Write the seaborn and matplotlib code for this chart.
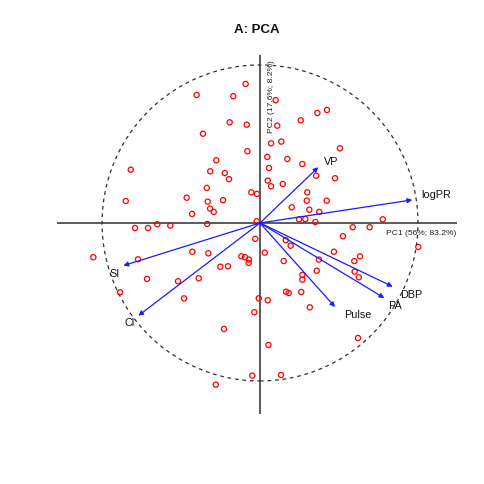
import matplotlib
matplotlib.use("Agg")
import matplotlib.pyplot as plt
import matplotlib.patches as mpatches
import seaborn as sns
import pandas as pd

# ---- data (PCA scores, loadings) ----
pc1 = [-0.091, -0.401, -0.169, -0.192, -0.084, -0.361, -0.080, -0.277, -0.818, -0.315,
       -0.223, -0.196, -0.337, -0.055, -0.019, -0.850, -0.464, -0.331, -0.234, -0.316,
       -0.293, -0.430, -0.021, -0.650, -0.568, -0.334, -0.791, -0.709, -0.030, -1.055,
       -0.772, -0.428, -0.327, -0.118, -0.095, -0.070, -0.072, -0.251, -0.203, -0.715,
       -0.519, -0.388, -0.886, -0.008, -0.481, -0.036, -0.228, -0.049, -0.280, 0.099,
       0.363, 0.424, 0.258, 0.109, 0.070, 0.135, 0.506, 0.046, 0.173, 0.057,
       0.268, 0.356, 0.475, 0.049, 0.070, 0.144, 0.299, 0.296, 0.422, 0.201,
       0.312, 0.375, 0.247, 0.287, 0.350, 0.777, 0.587, 0.694, 0.525, 1.002,
       0.163, 0.194, 0.030, 0.468, 0.633, 0.597, 0.150, 0.373, 0.359, 0.599,
       0.625, 0.268, 0.268, 0.165, 0.182, 0.261, 0.049, 0.315, 0.620, 0.053,
       0.133]
pc2 = [0.880, 0.810, 0.802, 0.637, 0.622, 0.565, 0.454, 0.397, 0.337, 0.327,
       0.316, 0.277, 0.222, 0.194, 0.184, 0.139, 0.160, 0.135, 0.144, 0.091,
       0.070, 0.057, 0.011, -0.008, -0.017, -0.006, -0.032, -0.032, -0.101, -0.217,
       -0.230, -0.182, -0.192, -0.211, -0.217, -0.232, -0.253, -0.277, -0.274, -0.354,
       -0.369, -0.350, -0.439, -0.477, -0.477, -0.565, -0.671, -0.966, -1.023, 0.777,
       0.696, 0.715, 0.650, 0.616, 0.504, 0.515, 0.473, 0.418, 0.405, 0.348,
       0.373, 0.299, 0.283, 0.268, 0.232, 0.247, 0.194, 0.141, 0.141, 0.099,
       0.084, 0.070, 0.023, 0.025, 0.006, 0.023, -0.027, -0.027, -0.084, -0.152,
       -0.109, -0.144, -0.188, -0.182, -0.211, -0.241, -0.241, -0.232, -0.302, -0.308,
       -0.344, -0.329, -0.359, -0.435, -0.443, -0.437, -0.489, -0.534, -0.728, -0.772,
       -0.962]

variables = ["logPR", "VP", "SI", "Cl", "DBP", "PA", "Pulse"]
load_pc1 = [0.964, 0.369, -0.865, -0.770, 0.840, 0.787, 0.475]
load_pc2 = [0.146, 0.353, -0.270, -0.587, -0.403, -0.475, -0.532]
label_x = [1.118, 0.449, -0.918, -0.823, 0.960, 0.854, 0.618]
label_y = [0.184, 0.394, -0.316, -0.628, -0.449, -0.517, -0.578]

title = "A: PCA"
pc1_label = "PC1 (56%; 83.2%)"
pc2_label = "PC2 (17.6%; 8.2%)"

# ---- plot ----
sns.set_theme(style="white")
plt.rcParams["font.family"] = ["Liberation Sans", "DejaVu Sans"]

fig = plt.figure(figsize=(4.85, 4.85), dpi=100)
ax = fig.add_axes([57 / 485, 1 - 415 / 485, 400 / 485, 359 / 485])
ax.set_xlim(-1.285, 1.247)
ax.set_ylim(-1.209, 1.063)
ax.axis("off")

ax.axhline(0, color="#5a5a5a", lw=1.4, zorder=1)
ax.axvline(0, color="#5a5a5a", lw=1.4, zorder=1)

circ = mpatches.Circle((0, 0), 1.0, fill=False, edgecolor="#303030",
                       lw=0.9, linestyle=(0, (3, 3)), zorder=2)
ax.add_patch(circ)

df = pd.DataFrame({"PC1": pc1, "PC2": pc2})
sns.scatterplot(data=df, x="PC1", y="PC2", ax=ax, marker="o", s=14,
                facecolor="none", edgecolor="red", linewidth=0.9, zorder=3)

for v, x, y, lx, ly in zip(variables, load_pc1, load_pc2, label_x, label_y):
    ax.annotate("", xy=(x, y), xytext=(0, 0),
                arrowprops=dict(arrowstyle="-|>", color="#1a1aff", lw=0.9,
                                mutation_scale=7, shrinkA=0, shrinkB=0),
                zorder=4)
    ax.text(lx, ly, v, ha="center", va="center", fontsize=7.8, color="#111111", zorder=5)

ax.text(0.797, -0.070, pc1_label, ha="left", va="baseline", fontsize=6.1,
        color="#222222", clip_on=True)
ax.text(0.073, 0.576, pc2_label, ha="center", va="bottom", rotation=90,
        fontsize=6.1, color="#222222", clip_on=True)

fig.text(257 / 485, 1 - 30 / 485, title, ha="center", va="center",
         fontsize=9.5, fontweight="bold", color="#111111")

fig.savefig("out.png", dpi=100)
